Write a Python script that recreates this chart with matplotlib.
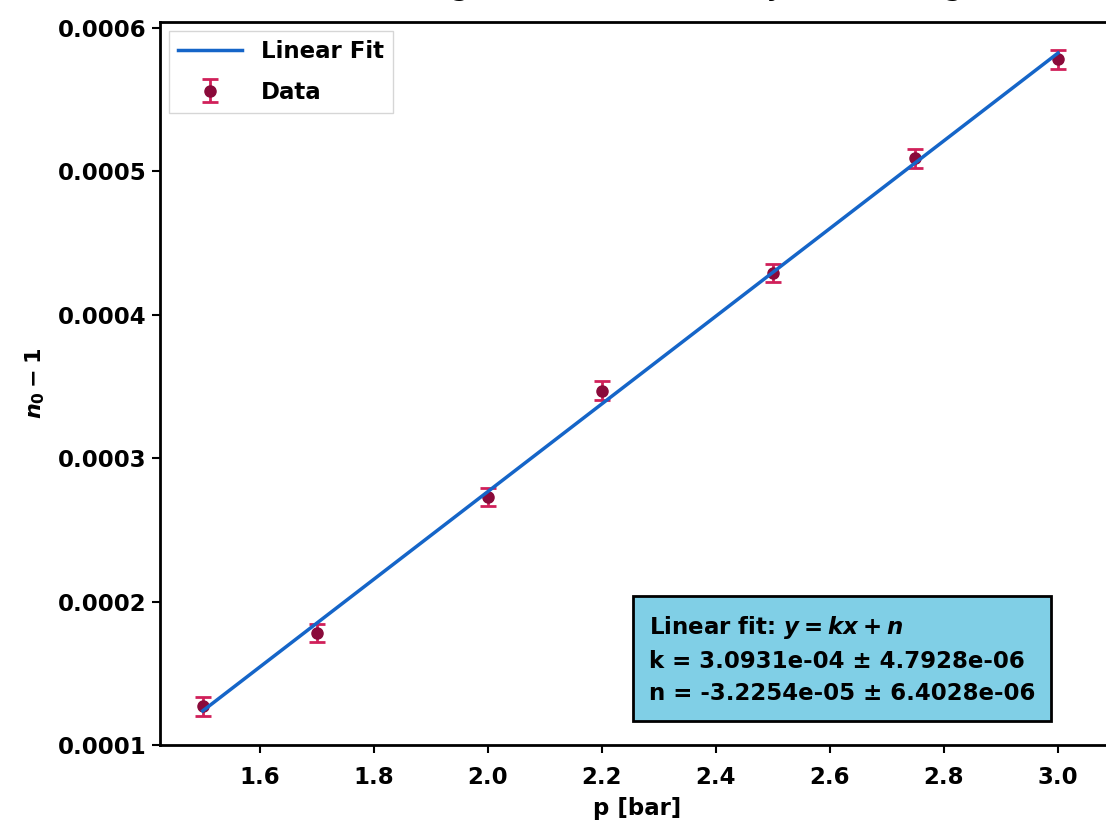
import numpy as np
import matplotlib
matplotlib.use("Agg")
from matplotlib import pyplot as plt

# pressure [bar] and n0 - 1
p = [1.5, 1.7, 2.0, 2.2, 2.5, 2.75, 3.0]
n_minus_1 = [0.000127, 0.000178, 0.000273, 0.000347, 0.000429, 0.000509, 0.000578]
n_err = [0.0000065, 0.0000065, 0.0000065, 0.0000065, 0.0000065, 0.0000065, 0.0000065]

fit_text = ("Linear fit: $y = kx + n$\n"
            "k = 3.0931e-04 \u00b1 4.7928e-06\n"
            "n = -3.2254e-05 \u00b1 6.4028e-06")

plt.rcParams['font.family'] = 'DejaVu Sans'
plt.rcParams['font.weight'] = 'bold'

fig = plt.figure(figsize=(11.06, 8.3), dpi=100)
# axes runs past the right edge of the picture, like the cropped photo
ax = fig.add_axes([160/1106, 85/830, 955/1106, 723/830])

# linear fit through the data
coef = np.polyfit(p, n_minus_1, 1)
xs = np.array([min(p), max(p)])
ax.plot(xs, np.polyval(coef, xs), color="#1565c8", lw=2.5, label="Linear Fit", zorder=3)

ax.errorbar(p, n_minus_1, yerr=n_err, fmt="o", color="#8a0a3a", ecolor="#d0205a",
            ms=8, capsize=6, elinewidth=2, capthick=2, label="Data", zorder=2)

ax.set_xlim(1.425, 3.1)
ax.set_ylim(0.0001, 0.000604)
ax.set_xticks([1.6, 1.8, 2.0, 2.2, 2.4, 2.6, 2.8, 3.0])
ax.set_yticks([0.0001, 0.0002, 0.0003, 0.0004, 0.0005, 0.0006])
ax.set_yticklabels(["0.0001", "0.0002", "0.0003", "0.0004", "0.0005", "0.0006"])
ax.tick_params(labelsize=16.5, width=1.5, length=6)
ax.tick_params(axis="x", pad=9)
for s in ax.spines.values():
    s.set_linewidth(2)

ax.set_xlabel("p [bar]", fontsize=16.5, fontweight="bold", labelpad=6)
ax.set_ylabel("$n_0 - 1$", fontsize=16, labelpad=8)
ax.set_title("Odvisnost lomnega količnika kot funkcija absolutnega tlaka",
             fontsize=18, fontweight="bold", pad=19)

ax.legend(loc="upper left", fontsize=16.5, handlelength=2.8, labelspacing=0.75,
          borderaxespad=0.4, fancybox=False)

ax.text(0.512, 0.055, fit_text, transform=ax.transAxes, fontsize=16.5, fontweight="bold",
        va="bottom", ha="left", linespacing=1.5,
        bbox=dict(boxstyle="square,pad=0.7", facecolor="#80cfe6", edgecolor="black", lw=2))

plt.savefig("out.png", dpi=100)
